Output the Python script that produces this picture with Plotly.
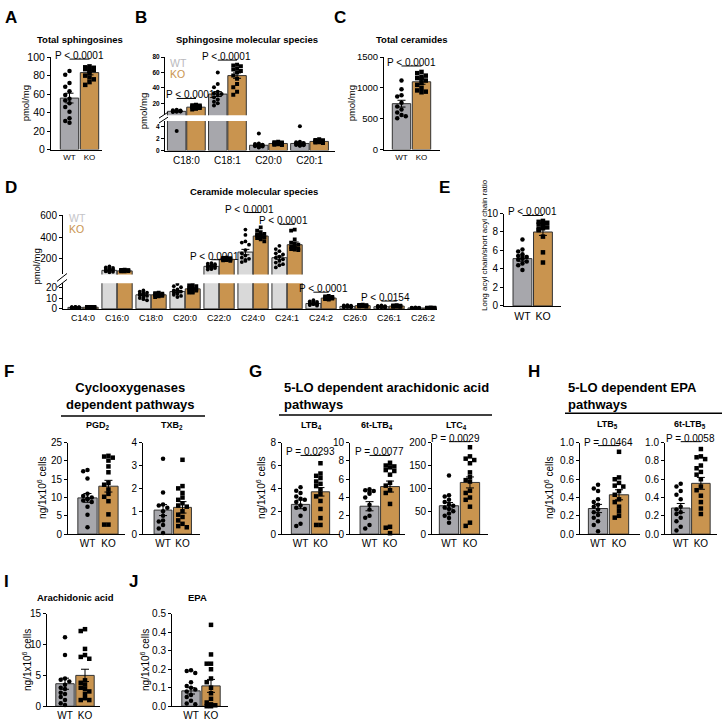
import plotly.graph_objects as go

W, H = 722, 725
FONT = "Liberation Sans, Arial, sans-serif"
WT_C = "#a7a7ac"
KO_C = "#c9944f"
WT_D = "#d9d9d9"
EDGE = "#333333"

GROUPS = ["WT", "KO"]

# ---------------- A: total sphingosines (pmol/mg) ----------------
A_WT = [85, 81, 72, 68, 63, 59, 55, 53, 50, 46, 41, 34, 31, 29]
A_KO = [90, 89, 88.5, 88, 87, 86, 85, 83, 80, 78, 76, 73, 70]
A_MEAN = [55.7, 83.3]
A_SEM = [5.3, 2.5]

# ---------------- B: sphingosine molecular species ----------------
B_SPECIES = ["C18:0", "C18:1", "C20:0", "C20:1"]
B_WT_MEAN = [9.6, 32, 0.9, 1.2]
B_KO_MEAN = [15, 56, 1.2, 1.55]
B_WT_SEM = [0.6, 3.2, 0.18, 0.25]
B_KO_SEM = [0.7, 3.5, 0.05, 0.05]
B_WT_PTS = [
    [11.5, 11, 10.6, 10.3, 10, 9.8, 9.6, 9.4, 9.2, 9.0, 8.8, 3.3],
    [60, 45, 41, 35, 33, 32, 31, 28, 25, 22, 20, 17],
    [2.9, 1.2, 1.1, 1.0, 0.95, 0.9, 0.85, 0.8, 0.75, 0.7, 0.6, 0.5],
    [4.1, 1.5, 1.4, 1.3, 1.2, 1.1, 1.05, 1.0, 0.95, 0.9, 0.85, 0.8],
]
B_KO_PTS = [
    [18, 17.5, 17, 16.5, 16, 15.5, 15, 14.5, 14, 13.5, 13, 12],
    [70, 69, 68, 65, 64, 62, 60, 56, 52, 45, 41, 35, 31],
    [1.5, 1.4, 1.35, 1.3, 1.25, 1.2, 1.2, 1.15, 1.1, 1.05, 1.0, 0.95],
    [1.9, 1.8, 1.75, 1.7, 1.65, 1.6, 1.55, 1.5, 1.45, 1.4, 1.35, 1.3],
]

# ---------------- C: total ceramides ----------------
C_WT = [1120, 980, 880, 860, 760, 700, 650, 600, 560, 540, 510]
C_KO = [1260, 1240, 1200, 1180, 1160, 1150, 1120, 1080, 1050, 1000, 960, 940, 930]
C_MEAN = [745, 1100]
C_SEM = [55, 40]

# ---------------- D: ceramide molecular species ----------------
D_SPECIES = ["C14:0", "C16:0", "C18:0", "C20:0", "C22:0", "C24:0",
             "C24:1", "C24:2", "C26:0", "C26:1", "C26:2"]
D_WT_MEAN = [1.4, 93, 13, 16, 130, 262, 210, 5, 2.3, 2.0, 0.9]
D_KO_MEAN = [1.55, 88, 13, 18.5, 195, 410, 330, 10, 3.0, 2.6, 0.9]
D_WT_SEM = [0.05, 4, 0.7, 1.0, 5, 25, 15, 0.4, 0.2, 0.15, 0.05]
D_KO_SEM = [0.05, 2, 0.4, 0.7, 3, 12, 25, 0.3, 0.15, 0.15, 0.05]
D_WT_PTS = [
    [1.8, 1.6, 1.5, 1.5, 1.4, 1.4, 1.3, 1.3, 1.2, 1.2, 1.1, 1.0],
    [130, 120, 115, 110, 105, 100, 95, 90, 88, 85, 80, 75],
    [17, 16, 15, 14.5, 14, 13, 12.5, 12, 11, 10, 9, 8],
    [23, 21, 20, 18, 17, 16, 15, 15, 14, 13, 12, 11],
    [160, 155, 150, 140, 135, 130, 125, 120, 115, 110, 105, 100],
    [470, 420, 360, 350, 330, 280, 250, 230, 210, 200, 190, 180, 170],
    [320, 290, 270, 250, 240, 220, 210, 195, 180, 165, 150, 140, 120],
    [8, 7, 6.5, 6, 5.5, 5, 4.5, 4.5, 4, 4, 3.5, 3],
    [3.5, 3.2, 3, 2.8, 2.5, 2.3, 2.2, 2, 1.9, 1.8, 1.6, 1.5],
    [3.2, 2.8, 2.5, 2.3, 2.2, 2, 2, 1.9, 1.8, 1.6, 1.5, 1.3],
    [1.3, 1.2, 1.1, 1, 1, 0.9, 0.9, 0.8, 0.8, 0.7, 0.7, 0.6],
]
D_KO_PTS = [
    [1.9, 1.8, 1.7, 1.7, 1.6, 1.6, 1.5, 1.5, 1.4, 1.4, 1.3, 1.3],
    [100, 98, 96, 95, 93, 92, 90, 88, 86, 85, 83],
    [15, 14.5, 14, 14, 13.5, 13, 13, 12.5, 12, 12, 11.5, 11],
    [23, 22, 21, 20, 19, 19, 18, 18, 17, 16, 15, 15],
    [210, 208, 205, 200, 200, 198, 195, 193, 190, 188, 185, 182],
    [490, 460, 445, 430, 425, 420, 415, 410, 400, 395, 390, 380, 360],
    [470, 460, 380, 350, 340, 330, 320, 310, 300, 295, 290, 285, 280],
    [12, 11.5, 11, 11, 10.5, 10, 10, 9.5, 9.5, 9, 9, 8.5],
    [4, 3.8, 3.5, 3.3, 3.2, 3, 3, 2.8, 2.7, 2.5, 2.4, 2.2],
    [3.5, 3.3, 3.1, 3, 2.8, 2.7, 2.6, 2.5, 2.4, 2.2, 2, 1.8],
    [1.3, 1.2, 1.1, 1, 1, 0.9, 0.9, 0.8, 0.8, 0.7, 0.7, 0.6],
]

# ---------------- E: long/short acyl chain ratio ----------------
E_WT = [7.2, 6.1, 5.9, 5.6, 5.4, 5.3, 5.2, 5.1, 5.0, 4.8, 4.6, 4.4, 3.9]
E_KO = [9.2, 9.1, 9.0, 8.9, 8.8, 8.6, 8.5, 8.4, 8.3, 8.2, 7.5, 5.8, 4.7]
E_MEAN = [5.12, 8.0]
E_SEM = [0.28, 0.37]

# ---------------- F: cyclooxygenase pathways ----------------
PGD2_WT = [17.5, 17.2, 15.2, 11.0, 10.4, 10.0, 9.7, 9.5, 9.2, 8.8, 7.5, 5.3, 1.9]
PGD2_KO = [21.4, 21.2, 20.9, 20.1, 18.5, 16.9, 14.0, 13.5, 12.2, 11.0, 10.2, 9.0, 5.4, 2.6, 2.6]
PGD2_MEAN = [9.9, 13.1]
PGD2_SEM = [1.2, 1.6]

TXB2_WT = [3.3, 1.82, 1.3, 1.25, 1.15, 1.0, 0.8, 0.6, 0.55, 0.4, 0.25, 0.05]
TXB2_KO = [3.25, 2.1, 2.0, 1.8, 1.6, 1.5, 1.35, 1.25, 1.2, 1.0, 0.85, 0.75, 0.6, 0.45, 0.35, 0.3]
TXB2_MEAN = [1.05, 1.17]
TXB2_SEM = [0.24, 0.25]

# ---------------- G: 5-LO arachidonic acid pathways ----------------
LTB4_WT = [4.1, 3.8, 3.6, 3.3, 3.1, 3.0, 2.8, 2.5, 2.3, 2.2, 1.6, 0.9, 0.7]
LTB4_KO = [6.2, 5.3, 5.1, 4.9, 4.6, 4.4, 4.2, 3.9, 3.5, 3.3, 2.9, 2.2, 1.4, 0.8, 0.8]
LTB4_MEAN = [2.6, 3.7]
LTB4_SEM = [0.38, 0.37]

T6LTB4_WT = [4.9, 4.8, 4.7, 4.6, 4.4, 4.0, 3.2, 2.7, 2.0, 1.8, 1.0, 0.6]
T6LTB4_KO = [7.8, 7.5, 7.4, 7.3, 7.0, 6.9, 6.5, 5.6, 5.3, 4.8, 4.5, 3.3, 0.8, 0.7, 0.1]
T6LTB4_MEAN = [3.05, 5.2]
T6LTB4_SEM = [0.5, 0.6]

LTC4_WT = [128, 85, 82, 75, 70, 64, 62, 58, 55, 50, 45, 40, 35, 25]
LTC4_KO = [190, 170, 165, 162, 155, 135, 125, 118, 115, 95, 90, 80, 75, 60, 25, 18]
LTC4_MEAN = [62, 113]
LTC4_SEM = [7, 12]

# ---------------- H: 5-LO EPA pathways ----------------
LTB5_WT = [0.54, 0.50, 0.47, 0.38, 0.35, 0.32, 0.30, 0.27, 0.24, 0.21, 0.18, 0.14, 0.10, 0.03]
LTB5_KO = [0.90, 0.62, 0.60, 0.56, 0.53, 0.52, 0.47, 0.43, 0.38, 0.35, 0.30, 0.25, 0.20, 0.18]
LTB5_MEAN = [0.28, 0.43]
LTB5_SEM = [0.045, 0.055]

T6LTB5_WT = [0.55, 0.52, 0.47, 0.43, 0.38, 0.30, 0.27, 0.24, 0.22, 0.18, 0.14, 0.08, 0.04]
T6LTB5_KO = [0.93, 0.85, 0.84, 0.82, 0.75, 0.72, 0.68, 0.65, 0.60, 0.52, 0.48, 0.42, 0.35, 0.28, 0.22]
T6LTB5_MEAN = [0.285, 0.555]
T6LTB5_SEM = [0.05, 0.065]

# ---------------- I / J: free fatty acids ----------------
AA_WT = [11.2, 8.3, 4.5, 4.3, 4.0, 3.5, 3.0, 2.8, 2.2, 2.0, 1.5, 1.0, 0.5, 0.2]
AA_KO = [12.5, 12.2, 9.3, 8.3, 8.0, 7.7, 4.2, 3.8, 3.5, 3.0, 2.8, 2.4, 2.0, 1.3, 1.0, 1.0]
AA_MEAN = [3.65, 5.0]
AA_SEM = [0.9, 1.0]

EPA_WT = [0.195, 0.19, 0.18, 0.13, 0.11, 0.10, 0.09, 0.08, 0.06, 0.05, 0.03, 0.015, 0.01]
EPA_KO = [0.44, 0.28, 0.23, 0.23, 0.20, 0.15, 0.13, 0.10, 0.07, 0.04, 0.02, 0.01, 0.005, 0.0, 0.0]
EPA_MEAN = [0.083, 0.11]
EPA_SEM = [0.017, 0.035]

# =====================================================================
fig = go.Figure()
ann, shapes, info = [], [], {}
layout = dict(width=W, height=H, margin=dict(l=0, r=0, t=0, b=0), autosize=False,
              paper_bgcolor="white", plot_bgcolor="rgba(0,0,0,0)", showlegend=False,
              barmode="overlay", font=dict(family=FONT, color="black"))
n_ax = [0]


def make_axes(box, xr, yr, yticks, xticks=None, xtext=None, yfmt=None,
              yfont=10, xfont=10, ybold=False, show_x=True):
    n_ax[0] += 1
    s = "" if n_ax[0] == 1 else str(n_ax[0])
    l, r, t, b = box
    layout["xaxis" + s] = dict(domain=[l / W, r / W], range=xr, anchor="y" + s,
                               showline=show_x, linecolor="black", linewidth=1, ticks="",
                               showgrid=False, zeroline=False, showticklabels=show_x,
                               tickvals=xticks if show_x else [], ticktext=xtext if show_x else [],
                               tickfont=dict(family=FONT, size=xfont, color="black"),
                               fixedrange=True)
    lab = [format(v, yfmt) if yfmt else str(v) for v in yticks]
    if ybold:
        lab = ["<b>%s</b>" % t_ for t_ in lab]
    layout["yaxis" + s] = dict(domain=[1 - b / H, 1 - t / H], range=yr, anchor="x" + s,
                               showline=True, linecolor="black", linewidth=1, ticks="outside",
                               ticklen=3, tickwidth=1, tickcolor="black", tickvals=yticks,
                               ticktext=lab, showgrid=False, zeroline=False,
                               tickfont=dict(family=FONT, size=yfont, color="black"),
                               fixedrange=True)
    xa, ya = "x" + s, "y" + s
    info[xa] = dict(ppux=(r - l) / (xr[1] - xr[0]), ppuy=(b - t) / (yr[1] - yr[0]))
    return xa, ya


def swarm(vals, ppux, ppuy, size, maxoff):
    order = sorted(range(len(vals)), key=lambda i: -vals[i])
    step = size * 0.95
    cands = [0.0]
    k = 1
    while k * step * 0.5 <= maxoff + 0.01:
        cands += [-k * step * 0.5, k * step * 0.5]
        k += 1
    placed, offs = [], [0.0] * len(vals)
    for i in order:
        v = vals[i]
        best = None
        for c in cands:
            if all(abs(c - po) >= step or abs(v - pv) * ppuy >= step for po, pv in placed):
                best = c
                break
        if best is None:
            best = min(cands, key=lambda c: sum(1 for po, pv in placed
                                                if abs(c - po) < step and abs(v - pv) * ppuy < step))
        placed.append((best, v))
        offs[i] = best / ppux
    return offs


def bars(xa, ya, xs, means, sems, colors, width):
    fig.add_trace(go.Bar(x=xs, y=means, width=width,
                         marker=dict(color=colors, line=dict(color=EDGE, width=1)),
                         error_y=dict(type="data", array=sems, color="black", thickness=1, width=4),
                         xaxis=xa, yaxis=ya, hoverinfo="skip"))


def dots(xa, ya, xc, vals, symbol, size, maxoff, clip=False):
    if not vals:
        return
    offs = swarm(vals, info[xa]["ppux"], info[xa]["ppuy"], size, maxoff)
    fig.add_trace(go.Scatter(x=[xc + o for o in offs], y=vals, mode="markers",
                             marker=dict(symbol=symbol, size=size, color="black", line=dict(width=0)),
                             cliponaxis=clip, xaxis=xa, yaxis=ya, hoverinfo="skip"))


def text(x, y, s, size=10, bold=False, color="black", xanchor="center", yanchor="middle",
         angle=0, align="center"):
    ann.append(dict(x=x / W, y=1 - y / H, xref="paper", yref="paper",
                    text=("<b>%s</b>" % s) if bold else s, showarrow=False,
                    font=dict(family=FONT, size=size, color=color), xanchor=xanchor,
                    yanchor=yanchor, textangle=angle, align=align, borderpad=0))


def pline(x0, y0, x1, y1, width=1):
    shapes.append(dict(type="line", xref="paper", yref="paper", x0=x0 / W, x1=x1 / W,
                       y0=1 - y0 / H, y1=1 - y1 / H, line=dict(color="black", width=width)))


def pval(xa, x0, x1, yline, s, xshift=0, size=10):
    y = 1 - yline / H
    shapes.append(dict(type="line", xref=xa, yref="paper", x0=x0, x1=x1, y0=y, y1=y,
                       line=dict(color="black", width=1)))
    ann.append(dict(xref=xa, yref="paper", x=(x0 + x1) / 2, y=y, text=s, showarrow=False,
                    xanchor="center", yanchor="bottom", yshift=-3, xshift=xshift, borderpad=0,
                    font=dict(family=FONT, size=size, color="black")))


def pair_panel(box, xr, yr, yticks, wt, ko, mean, sem, yfmt=None, xfont=10, yfont=10,
               msize=4.5, p=None, bw=0.92, pshift=0):
    xa, ya = make_axes(box, xr, yr, yticks, xticks=[0, 1], xtext=GROUPS, yfmt=yfmt,
                       xfont=xfont, yfont=yfont)
    bars(xa, ya, [0, 1], mean, sem, [WT_C, KO_C], bw)
    half = bw * info[xa]["ppux"] / 2 - msize / 2 - 1
    dots(xa, ya, 0, wt, "circle", msize, half)
    dots(xa, ya, 1, ko, "square", msize, half)
    if p:
        pval(xa, 0, 1, p[0], p[1], xshift=pshift)
    return xa, ya


# ---------------- A ----------------
pair_panel((51, 102, 52, 146), [-0.925, 1.625], [0, 100], [0, 20, 40, 60, 80, 100],
           A_WT, A_KO, A_MEAN, A_SEM, xfont=8, yfont=10.5, p=(54, "P < 0.0001"))
text(80, 34, "Total sphingosines", 9.5, bold=True)
text(25, 99, "pmol/mg", 9.5, angle=-90)

# ---------------- B (broken axis) ----------------
BOFF, BW_B = 0.235, 0.45
xs_wt = [i - BOFF for i in range(len(B_SPECIES))]
xs_ko = [i + BOFF for i in range(len(B_SPECIES))]
B_LO_MAX, B_UP_MIN = 5, 4.6
xb_u, yb_u = make_axes((165, 335, 52, 111), [-0.52, 3.62], [B_UP_MIN, 80], [20, 40, 60, 80],
                       yfont=6.5, ybold=True, show_x=False)
xb_l, yb_l = make_axes((165, 335, 117, 147), [-0.52, 3.62], [0, B_LO_MAX], [0, 2, 4],
                       xticks=list(range(len(B_SPECIES))), xtext=B_SPECIES, yfont=6.5, ybold=True)
for xa, ya in ((xb_u, yb_u), (xb_l, yb_l)):
    bars(xa, ya, xs_wt, B_WT_MEAN, B_WT_SEM, WT_C, BW_B)
    bars(xa, ya, xs_ko, B_KO_MEAN, B_KO_SEM, KO_C, BW_B)
for i in range(len(B_SPECIES)):
    for pts, xc, sym in ((B_WT_PTS[i], xs_wt[i], "circle"), (B_KO_PTS[i], xs_ko[i], "square")):
        dots(xb_u, yb_u, xc, [v for v in pts if v > B_LO_MAX], sym, 4, 6, clip=True)
        dots(xb_l, yb_l, xc, [v for v in pts if v <= B_LO_MAX], sym, 4, 6, clip=True)
pval(xb_l, xs_wt[0], xs_ko[0], 94, "P < 0.0001", xshift=4)
pval(xb_l, xs_wt[1], xs_ko[1], 55, "P < 0.0001", xshift=-1)
pline(159, 114, 168, 108)
pline(159, 119, 168, 113)
text(169, 58, "WT", 10.5, color="#b9b9bd", xanchor="left")
text(169, 69, "KO", 10.5, color=KO_C, xanchor="left")
text(247, 34, "Sphingosine molecular species", 9.5, bold=True)
text(143, 107, "pmol/mg", 9.5, angle=-90)

# ---------------- C ----------------
pair_panel((384, 440, 52, 146), [-0.875, 1.925], [0, 1500], [0, 500, 1000, 1500],
           C_WT, C_KO, C_MEAN, C_SEM, xfont=8, yfont=9.5, p=(61, "P < 0.0001"))
text(412, 34, "Total ceramides", 9.5, bold=True)
text(351, 99, "pmol/mg", 9.5, angle=-90)

# ---------------- D (broken axis) ----------------
DOFF, BW_D = 0.225, 0.44
dx_wt = [i - DOFF for i in range(len(D_SPECIES))]
dx_ko = [i + DOFF for i in range(len(D_SPECIES))]
D_LO_MAX, D_UP_MIN = 23.6, 55
xd_u, yd_u = make_axes((63, 437, 213, 273), [-0.59, 10.41], [D_UP_MIN, 600], [200, 400, 600],
                       show_x=False)
xd_l, yd_l = make_axes((63, 437, 282, 308), [-0.59, 10.41], [0, D_LO_MAX], [0, 10, 20],
                       xticks=list(range(len(D_SPECIES))), xtext=D_SPECIES, xfont=9)
for xa, ya in ((xd_u, yd_u), (xd_l, yd_l)):
    bars(xa, ya, dx_wt, D_WT_MEAN, D_WT_SEM, WT_D, BW_D)
    bars(xa, ya, dx_ko, D_KO_MEAN, D_KO_SEM, KO_C, BW_D)
for i in range(len(D_SPECIES)):
    for pts, xc, sym in ((D_WT_PTS[i], dx_wt[i], "circle"), (D_KO_PTS[i], dx_ko[i], "square")):
        dots(xd_u, yd_u, xc, [v for v in pts if v > D_LO_MAX], sym, 3.8, 5.5, clip=True)
        dots(xd_l, yd_l, xc, [v for v in pts if v <= D_LO_MAX], sym, 3.8, 5.5, clip=True)
pval(xd_l, dx_wt[4], dx_ko[4], 258, "P < 0.0001", xshift=-5)
pval(xd_l, dx_wt[5], dx_ko[5], 210, "P < 0.0001", xshift=-4)
pval(xd_l, dx_wt[6], dx_ko[6], 222, "P < 0.0001", xshift=-4)
pval(xd_l, dx_wt[7], dx_ko[7], 291, "P < 0.0001", xshift=2)
pval(xd_l, dx_wt[9], dx_ko[9], 300, "P < 0.0154", xshift=-4)
pline(57, 280, 67, 272)
pline(57, 286, 67, 278)
text(68, 216, "WT", 10.5, color="#c4c4c8", xanchor="left")
text(68, 227, "KO", 10.5, color=KO_C, xanchor="left")
text(254, 189, "Ceramide molecular species", 9.5, bold=True)
text(37, 265, "pmol/mg", 9.5, angle=-90)

# ---------------- E ----------------
pair_panel((504, 561, 211, 305), [-0.9, 1.88], [0, 10], [0, 2, 4, 6, 8, 10],
           E_WT, E_KO, E_MEAN, E_SEM, xfont=10.5, yfont=10, p=(213, "P < 0.0001"))
text(485, 243, "Long acyl chain/short acyl chain ratio", 8, angle=-90)

# ---------------- F ----------------
NG = "ng/1x10<sup>6</sup> cells"
pair_panel((68, 125, 444, 537), [-0.93, 1.79], [0, 25], [0, 5, 10, 15, 20, 25],
           PGD2_WT, PGD2_KO, PGD2_MEAN, PGD2_SEM)
pair_panel((143, 200, 444, 537), [-1.03, 1.9], [0, 4], [0, 1, 2, 3, 4],
           TXB2_WT, TXB2_KO, TXB2_MEAN, TXB2_SEM)
text(130, 397, "Cyclooxygenases<br>dependent pathways", 13, bold=True)
pline(61, 417, 205, 417, 1.5)
text(98, 427, "PGD<sub>2</sub>", 9, bold=True)
text(172, 427, "TXB<sub>2</sub>", 9, bold=True)
text(42, 490, NG, 10, angle=-90)

# ---------------- G ----------------
pair_panel((282, 340, 444, 537), [-0.93, 1.98], [0, 8], [0, 2, 4, 6, 8],
           LTB4_WT, LTB4_KO, LTB4_MEAN, LTB4_SEM, p=(457, "P = 0.0293"))
pair_panel((350, 405, 444, 537), [-0.95, 1.73], [0, 10], [0, 2, 4, 6, 8, 10],
           T6LTB4_WT, T6LTB4_KO, T6LTB4_MEAN, T6LTB4_SEM, p=(457, "P = 0.0077"))
pair_panel((432, 488, 444, 537), [-0.81, 1.86], [0, 200], [0, 50, 100, 150, 200],
           LTC4_WT, LTC4_KO, LTC4_MEAN, LTC4_SEM, p=(443, "P = 0.0029"), pshift=-4)
text(283, 397, "5-LO dependent arachidonic acid<br>pathways", 13, bold=True,
     xanchor="left", align="left")
pline(279, 416, 492, 416, 1.5)
text(311, 427, "LTB<sub>4</sub>", 9, bold=True)
text(377, 427, "6t-LTB<sub>4</sub>", 9, bold=True)
text(457, 427, "LTC<sub>4</sub>", 9, bold=True)
text(261, 490, NG, 10, angle=-90)

# ---------------- H ----------------
pair_panel((580, 640, 444, 537), [-0.86, 2.0], [0, 1], [0, 0.2, 0.4, 0.6, 0.8, 1.0],
           LTB5_WT, LTB5_KO, LTB5_MEAN, LTB5_SEM, yfmt=".1f", p=(447, "P = 0.0464"))
pair_panel((665, 717, 444, 537), [-0.78, 1.8], [0, 1], [0, 0.2, 0.4, 0.6, 0.8, 1.0],
           T6LTB5_WT, T6LTB5_KO, T6LTB5_MEAN, T6LTB5_SEM, yfmt=".1f", p=(443, "P = 0.0058"))
text(567, 397, "5-LO dependent EPA<br>pathways", 13, bold=True, xanchor="left", align="left")
pline(565, 414, 722, 414, 1.5)
text(607, 426, "LTB<sub>5</sub>", 9, bold=True)
text(690, 426, "6t-LTB<sub>5</sub>", 9, bold=True)
text(549, 490, NG, 10, angle=-90)

# ---------------- I / J ----------------
pair_panel((47, 100, 618, 712), [-0.9, 1.75], [0, 15], [0, 5, 10, 15],
           AA_WT, AA_KO, AA_MEAN, AA_SEM)
text(75, 601, "Arachidonic acid", 9.5, bold=True)
text(27, 665, NG, 10, angle=-90)
pair_panel((172, 228, 618, 712), [-0.95, 1.85], [0, 0.5], [0, 0.1, 0.2, 0.3, 0.4, 0.5],
           EPA_WT, EPA_KO, EPA_MEAN, EPA_SEM, yfmt=".1f")
text(197, 601, "EPA", 9.5, bold=True)
text(145, 665, NG, 10, angle=-90)

# ---------------- panel letters ----------------
for lab, x, y in (("A", 11, 12), ("B", 141, 12), ("C", 340, 12), ("D", 11, 185),
                  ("E", 444, 185), ("F", 9, 372), ("G", 255, 372), ("H", 534, 372),
                  ("I", 7, 585), ("J", 133, 585)):
    text(x, y, lab, 17, bold=True)

layout["annotations"] = ann
layout["shapes"] = shapes
fig.update_layout(**layout)
fig.write_html("out.html", config={"displayModeBar": False},
               post_script="document.body.style.margin='0';")
